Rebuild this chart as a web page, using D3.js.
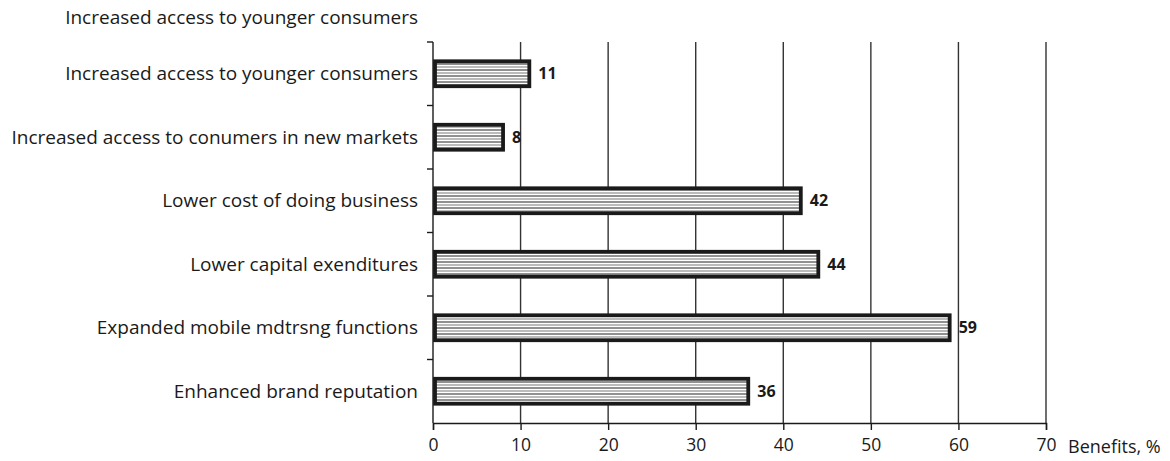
<!DOCTYPE html>
<html>
<head>
<meta charset="utf-8">
<script src="https://cdn.jsdelivr.net/npm/d3@7"></script>
<style>
  body { margin: 0; background: #fff; }
  svg text { font-family: "Open Sans", "Noto Sans", sans-serif; fill: #1a1a1a; }
</style>
</head>
<body>
<div class="workspace"></div>
<script>
const categories = [
  'Increased access to younger consumers',
  'Increased access to conumers in new markets',
  'Lower cost of doing business',
  'Lower capital exenditures',
  'Expanded mobile mdtrsng functions',
  'Enhanced brand reputation',
];
const values = [11, 8, 42, 44, 59, 36];
const xTicks = [0, 10, 20, 30, 40, 50, 60, 70];
const topLabel = 'Increased access to younger consumers';
const xTitle = 'Benefits, %';

const width = 1170;
const height = 461;
const margin = { top: 42, right: 124, bottom: 38, left: 433 };

const svg = d3
  .select('.workspace')
  .append('svg')
  .attr('width', width)
  .attr('height', height);

// stripes inside the bars
const defs = svg.append('defs');
const pattern = defs
  .append('pattern')
  .attr('id', 'stripes')
  .attr('patternUnits', 'userSpaceOnUse')
  .attr('width', 8)
  .attr('height', 6);
pattern.append('rect').attr('width', 8).attr('height', 6).attr('fill', '#fff');
pattern
  .append('line')
  .attr('x1', 0).attr('x2', 8).attr('y1', 1).attr('y2', 1)
  .attr('stroke', '#777').attr('stroke-width', 1);
pattern
  .append('line')
  .attr('x1', 0).attr('x2', 8).attr('y1', 4).attr('y2', 4)
  .attr('stroke', '#222').attr('stroke-width', 1);

const x = d3
  .scaleLinear()
  .domain([0, 70])
  .range([margin.left, width - margin.right]);

const y = d3
  .scaleBand()
  .domain(categories)
  .range([margin.top, height - margin.bottom])
  .paddingInner(0.56)
  .paddingOuter(0.28);

// vertical grid lines
svg
  .append('g')
  .selectAll('line')
  .data(xTicks.filter((d) => d > 0))
  .enter()
  .append('line')
  .attr('x1', (d) => x(d))
  .attr('x2', (d) => x(d))
  .attr('y1', margin.top)
  .attr('y2', height - margin.bottom)
  .attr('stroke', '#333')
  .attr('stroke-width', 1.4);

// bars
svg
  .append('g')
  .selectAll('rect')
  .data(values)
  .enter()
  .append('rect')
  .attr('x', x(0) + 2)
  .attr('y', (d, i) => y(categories[i]) + 1.5)
  .attr('width', (d) => x(d) - x(0) - 2)
  .attr('height', y.bandwidth() - 3)
  .attr('fill', 'url(#stripes)')
  .attr('stroke', '#1a1a1a')
  .attr('stroke-width', 3.8);

// value labels
svg
  .append('g')
  .selectAll('text')
  .data(values)
  .enter()
  .append('text')
  .attr('x', (d) => x(d) + 9)
  .attr('y', (d, i) => y(categories[i]) + y.bandwidth() / 2)
  .attr('dy', '0.35em')
  .style('font-size', '16px')
  .style('font-weight', 'bold')
  .text((d) => d);

// x axis
const xAxis = svg
  .append('g')
  .attr('transform', `translate(0,${height - margin.bottom})`)
  .call(d3.axisBottom(x).tickValues(xTicks).tickSize(7).tickPadding(9));
xAxis.select('.domain').attr('stroke', '#1a1a1a').attr('stroke-width', 1.4);
xAxis.selectAll('.tick line').attr('stroke', '#1a1a1a').attr('stroke-width', 1.4);
xAxis
  .selectAll('.tick text')
  .style('font-size', '17.5px')
  .attr('font-family', null);

svg
  .append('text')
  .attr('x', x(70) + 22)
  .attr('y', height - margin.bottom + 30)
  .style('font-size', '18px')
  .text(xTitle);

// y axis with ticks on band boundaries
const yAxis = svg.append('g');
yAxis
  .append('line')
  .attr('x1', margin.left)
  .attr('x2', margin.left)
  .attr('y1', margin.top)
  .attr('y2', height - margin.bottom)
  .attr('stroke', '#1a1a1a')
  .attr('stroke-width', 1.4);
const step = y.step();
yAxis
  .selectAll('line.tick')
  .data(d3.range(categories.length))
  .enter()
  .append('line')
  .attr('class', 'tick')
  .attr('x1', margin.left - 6)
  .attr('x2', margin.left)
  .attr('y1', (d) => margin.top + d * step)
  .attr('y2', (d) => margin.top + d * step)
  .attr('stroke', '#1a1a1a')
  .attr('stroke-width', 1.4);

// category labels
svg
  .append('g')
  .selectAll('text')
  .data(categories)
  .enter()
  .append('text')
  .attr('x', margin.left - 15)
  .attr('y', (d) => y(d) + y.bandwidth() / 2)
  .attr('dy', '0.35em')
  .attr('text-anchor', 'end')
  .style('font-size', '19px')
  .text((d) => d);

svg
  .append('text')
  .attr('x', margin.left - 15)
  .attr('y', 17)
  .attr('dy', '0.35em')
  .attr('text-anchor', 'end')
  .style('font-size', '19px')
  .text(topLabel);
</script>
</body>
</html>
